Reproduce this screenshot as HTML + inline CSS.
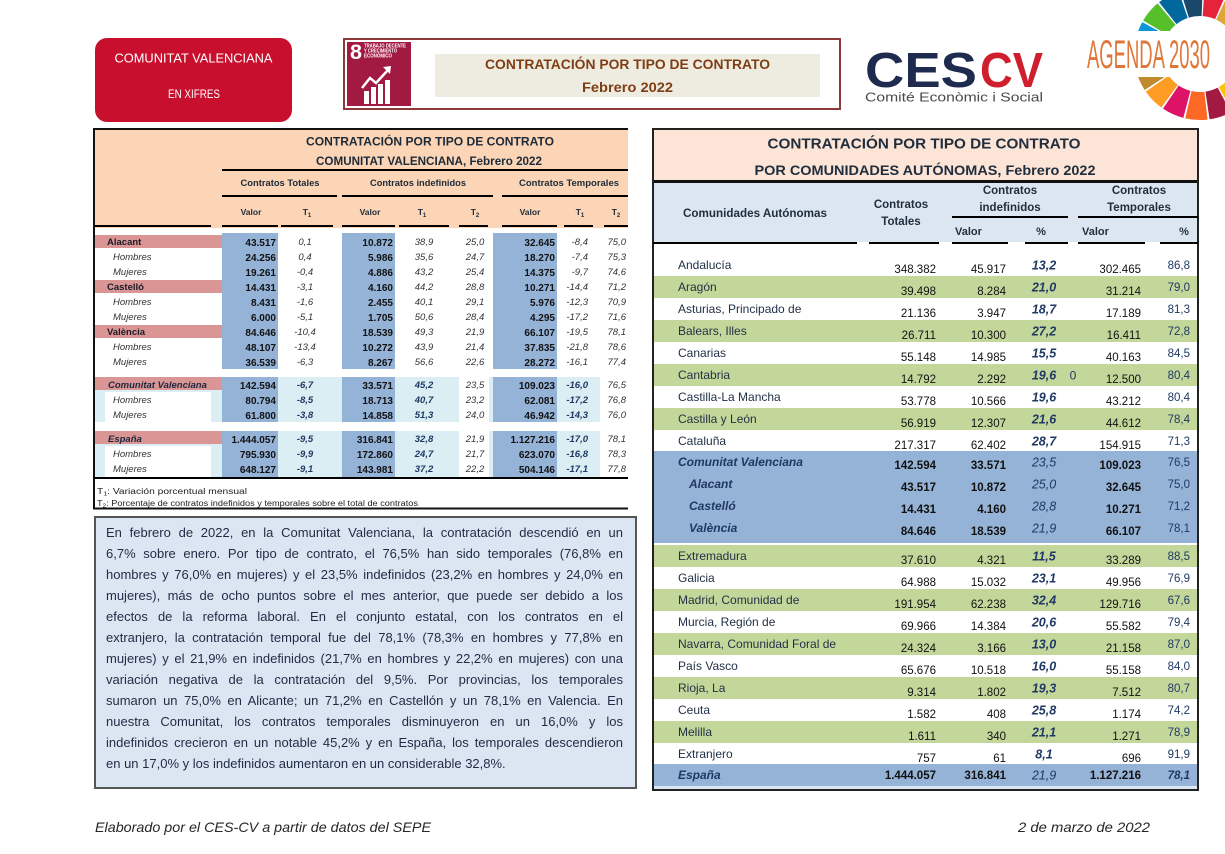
<!DOCTYPE html>
<html><head><meta charset="utf-8">
<style>
html,body{margin:0;padding:0;background:#fff}
body{width:1225px;height:854px;position:relative;overflow:hidden}
svg{position:absolute;left:0;top:0}
.p{position:absolute;left:106px;top:522px;width:517px;font:13px/21px "Liberation Sans",sans-serif;color:#1f2b45}
.p div{text-align:justify;text-align-last:justify;height:21px;overflow:visible}
.p div.l{text-align-last:left}
</style></head>
<body>
<svg width="1225" height="854" viewBox="0 0 1225 854" xmlns="http://www.w3.org/2000/svg" font-family="Liberation Sans, sans-serif">
<!-- red box -->
<rect x="95" y="38" width="197" height="84" rx="12" fill="#c8102e"/>
<text x="193.5" y="62.5" font-size="12.5" fill="#fff" text-anchor="middle" textLength="158" lengthAdjust="spacingAndGlyphs">COMUNITAT VALENCIANA</text>
<text x="194" y="98" font-size="11.5" fill="#fff" text-anchor="middle" textLength="52" lengthAdjust="spacingAndGlyphs">EN XIFRES</text>
<!-- brown box -->
<rect x="344" y="39" width="496" height="70" fill="#fff" stroke="#8e3a3a" stroke-width="2"/>
<rect x="347" y="42" width="64" height="64" fill="#a21942"/>
<text x="350" y="59" font-size="21" font-weight="bold" fill="#fff" textLength="12" lengthAdjust="spacingAndGlyphs">8</text>
<g fill="#fff" font-size="5" font-weight="bold">
<text x="364" y="47.5" textLength="42" lengthAdjust="spacingAndGlyphs">TRABAJO DECENTE</text>
<text x="364" y="52.5" textLength="33" lengthAdjust="spacingAndGlyphs">Y CRECIMIENTO</text>
<text x="364" y="57.5" textLength="28" lengthAdjust="spacingAndGlyphs">ECONÓMICO</text>
<rect x="364" y="91" width="5" height="13"/><rect x="371" y="87" width="5" height="17"/><rect x="378" y="84" width="5" height="20"/><rect x="385" y="80" width="5" height="24"/>
<polygon points="383,67 391,66 390,74"/>
</g>
<polyline points="362,88 370,78 376,83 388,70" stroke="#fff" stroke-width="2.5" fill="none"/>
<rect x="435" y="54" width="385" height="43" fill="#eeece1"/>
<text x="627.5" y="69" font-size="13.5" font-weight="bold" fill="#7f3d14" text-anchor="middle" textLength="285" lengthAdjust="spacingAndGlyphs">CONTRATACIÓN POR TIPO DE CONTRATO</text>
<text x="627.5" y="92" font-size="13.5" font-weight="bold" fill="#7f3d14" text-anchor="middle" textLength="91" lengthAdjust="spacingAndGlyphs">Febrero 2022</text>
<!-- CESCV -->
<text x="865" y="87" font-size="49" font-weight="bold" fill="#1e2b4e" textLength="112" lengthAdjust="spacingAndGlyphs">CES</text>
<text x="980" y="87" font-size="49" font-weight="bold" fill="#cf1f2e" textLength="63" lengthAdjust="spacingAndGlyphs">CV</text>
<text x="865" y="101.5" font-size="12.5" fill="#4a4a4a" textLength="178" lengthAdjust="spacingAndGlyphs">Comité Econòmic i Social</text>
<!-- SDG wheel -->
<g fill="none" stroke-width="28">
<circle cx="1200" cy="54" r="52" stroke="#E5243B" stroke-dasharray="17.7 400" transform="rotate(-86 1200 54)"/>
<circle cx="1200" cy="54" r="52" stroke="#DDA63A" stroke-dasharray="17.7 400" transform="rotate(-64.8 1200 54)"/>
<circle cx="1200" cy="54" r="52" stroke="#4C9F38" stroke-dasharray="17.7 400" transform="rotate(-43.6 1200 54)"/>
<circle cx="1200" cy="54" r="52" stroke="#C5192D" stroke-dasharray="17.7 400" transform="rotate(-22.5 1200 54)"/>
<circle cx="1200" cy="54" r="52" stroke="#FF3A21" stroke-dasharray="17.7 400" transform="rotate(-1.3 1200 54)"/>
<circle cx="1200" cy="54" r="52" stroke="#26BDE2" stroke-dasharray="17.7 400" transform="rotate(19.9 1200 54)"/>
<circle cx="1200" cy="54" r="52" stroke="#FCC30B" stroke-dasharray="17.7 400" transform="rotate(41 1200 54)"/>
<circle cx="1200" cy="54" r="52" stroke="#A21942" stroke-dasharray="17.7 400" transform="rotate(62.2 1200 54)"/>
<circle cx="1200" cy="54" r="52" stroke="#FD6925" stroke-dasharray="17.7 400" transform="rotate(83.4 1200 54)"/>
<circle cx="1200" cy="54" r="52" stroke="#DD1367" stroke-dasharray="17.7 400" transform="rotate(104.6 1200 54)"/>
<circle cx="1200" cy="54" r="52" stroke="#FD9D24" stroke-dasharray="17.7 400" transform="rotate(125.8 1200 54)"/>
<circle cx="1200" cy="54" r="52" stroke="#BF8B2E" stroke-dasharray="17.7 400" transform="rotate(147 1200 54)"/>
<circle cx="1200" cy="54" r="52" stroke="#3F7E44" stroke-dasharray="17.7 400" transform="rotate(168.2 1200 54)"/>
<circle cx="1200" cy="54" r="52" stroke="#0A97D9" stroke-dasharray="17.7 400" transform="rotate(189.4 1200 54)"/>
<circle cx="1200" cy="54" r="52" stroke="#56C02B" stroke-dasharray="17.7 400" transform="rotate(210.5 1200 54)"/>
<circle cx="1200" cy="54" r="52" stroke="#00689D" stroke-dasharray="17.7 400" transform="rotate(231.7 1200 54)"/>
<circle cx="1200" cy="54" r="52" stroke="#19486A" stroke-dasharray="17.7 400" transform="rotate(252.9 1200 54)"/>
</g>
<rect x="1083" y="31" width="142" height="46" fill="#fff"/>
<text x="1087" y="68" font-size="40" fill="#e0773a" textLength="123" lengthAdjust="spacingAndGlyphs">AGENDA 2030</text>

<!-- ============ LEFT TABLE ============ -->
<rect x="95" y="129" width="533" height="99" fill="#fbd5b5"/>
<path d="M628 129 H94 V508.5 H628" stroke="#111" stroke-width="2" fill="none"/>
<g fill="#000">
<rect x="222" y="169" width="406" height="2"/>
<rect x="222" y="195" width="115" height="2"/><rect x="342" y="195" width="151" height="2"/><rect x="502" y="195" width="126" height="2"/>
<rect x="94" y="225" width="117" height="2"/><rect x="222" y="225" width="56" height="2"/><rect x="281" y="225" width="52" height="2"/><rect x="342" y="225" width="53" height="2"/><rect x="399" y="225" width="50" height="2"/><rect x="459" y="225" width="29" height="2"/><rect x="502" y="225" width="55" height="2"/><rect x="564" y="225" width="29" height="2"/><rect x="604" y="225" width="24" height="2"/>
<rect x="94" y="477" width="534" height="2"/>
</g>
<g fill="#1d2a3a" font-weight="bold" text-anchor="middle">
<text x="430" y="145.5" font-size="11.8" textLength="248" lengthAdjust="spacingAndGlyphs">CONTRATACIÓN POR TIPO DE CONTRATO</text>
<text x="429" y="165" font-size="11.5" textLength="226" lengthAdjust="spacingAndGlyphs">COMUNITAT VALENCIANA, Febrero 2022</text>
<g font-size="9">
<text x="280" y="186" textLength="79" lengthAdjust="spacingAndGlyphs">Contratos Totales</text>
<text x="418" y="186" textLength="96" lengthAdjust="spacingAndGlyphs">Contratos indefinidos</text>
<text x="569" y="186" textLength="100" lengthAdjust="spacingAndGlyphs">Contratos Temporales</text>
</g>
<g font-size="8.5">
<text x="251" y="215">Valor</text>
<text x="307" y="215">T<tspan font-size="6" dy="2">1</tspan></text>
<text x="370" y="215">Valor</text>
<text x="422" y="215">T<tspan font-size="6" dy="2">1</tspan></text>
<text x="475" y="215">T<tspan font-size="6" dy="2">2</tspan></text>
<text x="530" y="215">Valor</text>
<text x="580" y="215">T<tspan font-size="6" dy="2">1</tspan></text>
<text x="616" y="215">T<tspan font-size="6" dy="2">2</tspan></text>
</g>
</g>
<!-- section backgrounds -->
<rect x="95" y="377" width="533" height="45" fill="#daeef3"/>
<rect x="95" y="431" width="533" height="46" fill="#daeef3"/>
<rect x="105" y="392" width="106" height="30" fill="#fff"/>
<rect x="105" y="446" width="106" height="31" fill="#fff"/>
<rect x="459" y="377" width="30" height="45" fill="#fff"/>
<rect x="459" y="431" width="30" height="46" fill="#fff"/>
<rect x="600" y="377" width="28" height="45" fill="#fff"/>
<rect x="600" y="431" width="28" height="46" fill="#fff"/>
<g fill="#95b3d7">
<rect x="222" y="233" width="56" height="136"/><rect x="342" y="233" width="53" height="136"/><rect x="493" y="233" width="64" height="136"/>
<rect x="222" y="377" width="56" height="45"/><rect x="342" y="377" width="53" height="45"/><rect x="493" y="377" width="64" height="45"/>
<rect x="222" y="431" width="56" height="46"/><rect x="342" y="431" width="53" height="46"/><rect x="493" y="431" width="64" height="46"/>
</g>
<g fill="#da9694">
<rect x="95" y="235" width="127" height="13"/><rect x="95" y="280" width="127" height="13"/><rect x="95" y="325" width="127" height="13"/>
<rect x="95" y="377" width="127" height="13"/><rect x="95" y="431" width="127" height="13"/>
</g>
<!-- labels -->
<g font-size="9.5" fill="#1a1a2a">
<g font-weight="bold"><text x="107" y="245">Alacant</text><text x="107" y="290">Castelló</text><text x="107" y="335">València</text></g>
<g font-weight="bold" font-style="italic" fill="#1c2640"><text x="108" y="388">Comunitat Valenciana</text><text x="108" y="442">España</text></g>
<g font-style="italic" fill="#333">
<text x="113" y="260">Hombres</text><text x="113" y="275">Mujeres</text>
<text x="113" y="305">Hombres</text><text x="113" y="320">Mujeres</text>
<text x="113" y="350">Hombres</text><text x="113" y="365">Mujeres</text>
<text x="113" y="403">Hombres</text><text x="113" y="418">Mujeres</text>
<text x="113" y="457">Hombres</text><text x="113" y="472">Mujeres</text>
</g>
</g>
<!-- valor cols -->
<g font-size="10" font-weight="bold" fill="#111" text-anchor="end">
<text x="276" y="246">43.517</text><text x="276" y="261">24.256</text><text x="276" y="276">19.261</text><text x="276" y="291">14.431</text><text x="276" y="306">8.431</text><text x="276" y="321">6.000</text><text x="276" y="336">84.646</text><text x="276" y="351">48.107</text><text x="276" y="366">36.539</text>
<text x="276" y="389">142.594</text><text x="276" y="404">80.794</text><text x="276" y="419">61.800</text>
<text x="276" y="443">1.444.057</text><text x="276" y="458">795.930</text><text x="276" y="473">648.127</text>
<text x="393" y="246">10.872</text><text x="393" y="261">5.986</text><text x="393" y="276">4.886</text><text x="393" y="291">4.160</text><text x="393" y="306">2.455</text><text x="393" y="321">1.705</text><text x="393" y="336">18.539</text><text x="393" y="351">10.272</text><text x="393" y="366">8.267</text>
<text x="393" y="389">33.571</text><text x="393" y="404">18.713</text><text x="393" y="419">14.858</text>
<text x="393" y="443">316.841</text><text x="393" y="458">172.860</text><text x="393" y="473">143.981</text>
<text x="555" y="246">32.645</text><text x="555" y="261">18.270</text><text x="555" y="276">14.375</text><text x="555" y="291">10.271</text><text x="555" y="306">5.976</text><text x="555" y="321">4.295</text><text x="555" y="336">66.107</text><text x="555" y="351">37.835</text><text x="555" y="366">28.272</text>
<text x="555" y="389">109.023</text><text x="555" y="404">62.081</text><text x="555" y="419">46.942</text>
<text x="555" y="443">1.127.216</text><text x="555" y="458">623.070</text><text x="555" y="473">504.146</text>
</g>
<!-- T cols -->
<g font-size="9.5" font-style="italic" fill="#333">
<g text-anchor="middle">
<text x="305" y="245">0,1</text><text x="305" y="260">0,4</text><text x="305" y="275">-0,4</text><text x="305" y="290">-3,1</text><text x="305" y="305">-1,6</text><text x="305" y="320">-5,1</text><text x="305" y="335">-10,4</text><text x="305" y="350">-13,4</text><text x="305" y="365">-6,3</text>
<text x="424" y="245">38,9</text><text x="424" y="260">35,6</text><text x="424" y="275">43,2</text><text x="424" y="290">44,2</text><text x="424" y="305">40,1</text><text x="424" y="320">50,6</text><text x="424" y="335">49,3</text><text x="424" y="350">43,9</text><text x="424" y="365">56,6</text>
<text x="475" y="245">25,0</text><text x="475" y="260">24,7</text><text x="475" y="275">25,4</text><text x="475" y="290">28,8</text><text x="475" y="305">29,1</text><text x="475" y="320">28,4</text><text x="475" y="335">21,9</text><text x="475" y="350">21,4</text><text x="475" y="365">22,6</text>
<text x="475" y="388">23,5</text><text x="475" y="403">23,2</text><text x="475" y="418">24,0</text>
<text x="475" y="442">21,9</text><text x="475" y="457">21,7</text><text x="475" y="472">22,2</text>
</g>
<g text-anchor="end">
<text x="588" y="245">-8,4</text><text x="588" y="260">-7,4</text><text x="588" y="275">-9,7</text><text x="588" y="290">-14,4</text><text x="588" y="305">-12,3</text><text x="588" y="320">-17,2</text><text x="588" y="335">-19,5</text><text x="588" y="350">-21,8</text><text x="588" y="365">-16,1</text>
<text x="626" y="245">75,0</text><text x="626" y="260">75,3</text><text x="626" y="275">74,6</text><text x="626" y="290">71,2</text><text x="626" y="305">70,9</text><text x="626" y="320">71,6</text><text x="626" y="335">78,1</text><text x="626" y="350">78,6</text><text x="626" y="365">77,4</text>
<text x="626" y="388">76,5</text><text x="626" y="403">76,8</text><text x="626" y="418">76,0</text>
<text x="626" y="442">78,1</text><text x="626" y="457">78,3</text><text x="626" y="472">77,8</text>
</g>
</g>
<g font-size="9.5" font-style="italic" font-weight="bold" fill="#1f3864">
<g text-anchor="middle">
<text x="305" y="388">-6,7</text><text x="305" y="403">-8,5</text><text x="305" y="418">-3,8</text>
<text x="305" y="442">-9,5</text><text x="305" y="457">-9,9</text><text x="305" y="472">-9,1</text>
<text x="424" y="388">45,2</text><text x="424" y="403">40,7</text><text x="424" y="418">51,3</text>
<text x="424" y="442">32,8</text><text x="424" y="457">24,7</text><text x="424" y="472">37,2</text>
</g>
<g text-anchor="end">
<text x="588" y="388">-16,0</text><text x="588" y="403">-17,2</text><text x="588" y="418">-14,3</text>
<text x="588" y="442">-17,0</text><text x="588" y="457">-16,8</text><text x="588" y="472">-17,1</text>
</g>
</g>
<g font-size="8" fill="#222">
<text x="97" y="494" textLength="150" lengthAdjust="spacingAndGlyphs">T<tspan font-size="5.5" dy="1.5">1</tspan><tspan dy="-1.5">: Variación porcentual mensual</tspan></text>
<text x="97" y="506" textLength="321" lengthAdjust="spacingAndGlyphs">T<tspan font-size="5.5" dy="1.5">2</tspan><tspan dy="-1.5">: Porcentaje de contratos indefinidos y temporales sobre el total de contratos</tspan></text>
</g>

<!-- text box -->
<rect x="95" y="517" width="541" height="271" fill="#dce6f2" stroke="#555" stroke-width="2"/>

<!-- ============ RIGHT TABLE ============ -->
<rect x="653" y="129" width="545" height="661" fill="#fff" stroke="#222" stroke-width="2"/>
<rect x="654" y="130" width="543" height="50" fill="#fce4d6"/>
<rect x="654" y="180" width="543" height="3" fill="#111"/>
<rect x="654" y="183" width="543" height="59" fill="#dce6f1"/>
<g fill="#000">
<rect x="653" y="242" width="204" height="2"/><rect x="869" y="242" width="70" height="2"/><rect x="952" y="242" width="56" height="2"/><rect x="1025" y="242" width="43" height="2"/><rect x="1078" y="242" width="67" height="2"/><rect x="1160" y="242" width="38" height="2"/>
<rect x="952" y="216" width="116" height="2"/><rect x="1078" y="216" width="120" height="2"/>
</g>
<g fill="#1f2d3d" font-weight="bold">
<text x="924" y="148.5" font-size="15" text-anchor="middle" textLength="313" lengthAdjust="spacingAndGlyphs">CONTRATACIÓN POR TIPO DE CONTRATO</text>
<text x="925" y="175" font-size="14" text-anchor="middle" textLength="341" lengthAdjust="spacingAndGlyphs">POR COMUNIDADES AUTÓNOMAS, Febrero 2022</text>
<g font-size="11.5">
<text x="683" y="217" textLength="144" lengthAdjust="spacingAndGlyphs">Comunidades Autónomas</text>
<text x="901" y="208" text-anchor="middle">Contratos</text><text x="901" y="225" text-anchor="middle">Totales</text>
<text x="1010" y="194" text-anchor="middle">Contratos</text><text x="1010" y="211" text-anchor="middle">indefinidos</text>
<text x="1139" y="194" text-anchor="middle">Contratos</text><text x="1139" y="211" text-anchor="middle">Temporales</text>
</g>
<g font-size="11">
<text x="955" y="235">Valor</text><text x="1041" y="235" text-anchor="middle">%</text>
<text x="1082" y="235">Valor</text><text x="1184" y="235" text-anchor="middle">%</text>
</g>
</g>
<!-- row backgrounds -->
<g fill="#c4d79b">
<rect x="654" y="276" width="543" height="22"/><rect x="654" y="320" width="543" height="22"/><rect x="654" y="364" width="543" height="22"/><rect x="654" y="408" width="543" height="22"/>
<rect x="654" y="545" width="543" height="22"/><rect x="654" y="589" width="543" height="22"/><rect x="654" y="633" width="543" height="22"/><rect x="654" y="677" width="543" height="22"/><rect x="654" y="721" width="543" height="22"/>
</g>
<rect x="654" y="451" width="543" height="92" fill="#95b3d7"/>
<rect x="654" y="764" width="543" height="22" fill="#95b3d7"/>
<rect x="654" y="786" width="543" height="3" fill="#dce6f1"/>
<!-- labels -->
<g font-size="12" fill="#1f2f45">
<text x="678" y="269">Andalucía</text><text x="678" y="291">Aragón</text><text x="678" y="313">Asturias, Principado de</text><text x="678" y="335">Balears, Illes</text><text x="678" y="357">Canarias</text><text x="678" y="379">Cantabria</text><text x="678" y="401">Castilla-La Mancha</text><text x="678" y="423">Castilla y León</text><text x="678" y="445">Cataluña</text>
<text x="678" y="560">Extremadura</text><text x="678" y="582">Galicia</text><text x="678" y="604">Madrid, Comunidad de</text><text x="678" y="626">Murcia, Región de</text><text x="678" y="648">Navarra, Comunidad Foral de</text><text x="678" y="670">País Vasco</text><text x="678" y="692">Rioja, La</text><text x="678" y="714">Ceuta</text><text x="678" y="736">Melilla</text><text x="678" y="758">Extranjero</text>
</g>
<g font-size="12" fill="#1f3864" font-weight="bold" font-style="italic">
<text x="678" y="466">Comunitat Valenciana</text><text x="689" y="488">Alacant</text><text x="689" y="510">Castelló</text><text x="689" y="532">València</text>
<text x="678" y="779">España</text>
</g>
<!-- numbers regular -->
<g font-size="11.5" fill="#111" text-anchor="end">
<text x="936" y="273">348.382</text><text x="1006" y="273">45.917</text><text x="1141" y="273">302.465</text>
<text x="936" y="295">39.498</text><text x="1006" y="295">8.284</text><text x="1141" y="295">31.214</text>
<text x="936" y="317">21.136</text><text x="1006" y="317">3.947</text><text x="1141" y="317">17.189</text>
<text x="936" y="339">26.711</text><text x="1006" y="339">10.300</text><text x="1141" y="339">16.411</text>
<text x="936" y="361">55.148</text><text x="1006" y="361">14.985</text><text x="1141" y="361">40.163</text>
<text x="936" y="383">14.792</text><text x="1006" y="383">2.292</text><text x="1141" y="383">12.500</text>
<text x="936" y="405">53.778</text><text x="1006" y="405">10.566</text><text x="1141" y="405">43.212</text>
<text x="936" y="427">56.919</text><text x="1006" y="427">12.307</text><text x="1141" y="427">44.612</text>
<text x="936" y="449">217.317</text><text x="1006" y="449">62.402</text><text x="1141" y="449">154.915</text>
<text x="936" y="564">37.610</text><text x="1006" y="564">4.321</text><text x="1141" y="564">33.289</text>
<text x="936" y="586">64.988</text><text x="1006" y="586">15.032</text><text x="1141" y="586">49.956</text>
<text x="936" y="608">191.954</text><text x="1006" y="608">62.238</text><text x="1141" y="608">129.716</text>
<text x="936" y="630">69.966</text><text x="1006" y="630">14.384</text><text x="1141" y="630">55.582</text>
<text x="936" y="652">24.324</text><text x="1006" y="652">3.166</text><text x="1141" y="652">21.158</text>
<text x="936" y="674">65.676</text><text x="1006" y="674">10.518</text><text x="1141" y="674">55.158</text>
<text x="936" y="696">9.314</text><text x="1006" y="696">1.802</text><text x="1141" y="696">7.512</text>
<text x="936" y="718">1.582</text><text x="1006" y="718">408</text><text x="1141" y="718">1.174</text>
<text x="936" y="740">1.611</text><text x="1006" y="740">340</text><text x="1141" y="740">1.271</text>
<text x="936" y="762">757</text><text x="1006" y="762">61</text><text x="1141" y="762">696</text>
</g>
<g font-size="11.5" fill="#111" text-anchor="end" font-weight="bold">
<text x="936" y="469">142.594</text><text x="1006" y="469">33.571</text><text x="1141" y="469">109.023</text>
<text x="936" y="491">43.517</text><text x="1006" y="491">10.872</text><text x="1141" y="491">32.645</text>
<text x="936" y="513">14.431</text><text x="1006" y="513">4.160</text><text x="1141" y="513">10.271</text>
<text x="936" y="535">84.646</text><text x="1006" y="535">18.539</text><text x="1141" y="535">66.107</text>
<text x="936" y="779">1.444.057</text><text x="1006" y="779">316.841</text><text x="1141" y="779">1.127.216</text>
</g>
<!-- pct indef -->
<g font-size="12.5" fill="#1f3864" font-weight="bold" font-style="italic" text-anchor="middle">
<text x="1044" y="269.5">13,2</text><text x="1044" y="291.5">21,0</text><text x="1044" y="313.5">18,7</text><text x="1044" y="335.5">27,2</text><text x="1044" y="357.5">15,5</text><text x="1044" y="379.5">19,6</text><text x="1044" y="401.5">19,6</text><text x="1044" y="423.5">21,6</text><text x="1044" y="445.5">28,7</text>
<text x="1044" y="560.5">11,5</text><text x="1044" y="582.5">23,1</text><text x="1044" y="604.5">32,4</text><text x="1044" y="626.5">20,6</text><text x="1044" y="648.5">13,0</text><text x="1044" y="670.5">16,0</text><text x="1044" y="692.5">19,3</text><text x="1044" y="714.5">25,8</text><text x="1044" y="736.5">21,1</text><text x="1044" y="758.5">8,1</text>
</g>
<g font-size="12.5" fill="#1f3864" font-style="italic" text-anchor="middle">
<text x="1044" y="466.5">23,5</text><text x="1044" y="488.5">25,0</text><text x="1044" y="510.5">28,8</text><text x="1044" y="532.5">21,9</text>
<text x="1044" y="779.5">21,9</text>
</g>
<text x="1073" y="379.5" font-size="12" fill="#1f3864" text-anchor="middle">0</text>
<!-- last col -->
<g font-size="11.5" fill="#1f3864" text-anchor="end">
<text x="1190" y="269">86,8</text><text x="1190" y="291">79,0</text><text x="1190" y="313">81,3</text><text x="1190" y="335">72,8</text><text x="1190" y="357">84,5</text><text x="1190" y="379">80,4</text><text x="1190" y="401">80,4</text><text x="1190" y="423">78,4</text><text x="1190" y="445">71,3</text>
<text x="1190" y="466">76,5</text><text x="1190" y="488">75,0</text><text x="1190" y="510">71,2</text><text x="1190" y="532">78,1</text>
<text x="1190" y="560">88,5</text><text x="1190" y="582">76,9</text><text x="1190" y="604">67,6</text><text x="1190" y="626">79,4</text><text x="1190" y="648">87,0</text><text x="1190" y="670">84,0</text><text x="1190" y="692">80,7</text><text x="1190" y="714">74,2</text><text x="1190" y="736">78,9</text><text x="1190" y="758">91,9</text>
<text x="1190" y="779" font-weight="bold" font-style="italic">78,1</text>
</g>

<!-- footer -->
<text x="95" y="832" font-size="14" font-style="italic" fill="#262626" textLength="336" lengthAdjust="spacingAndGlyphs">Elaborado por el CES-CV a partir de datos del SEPE</text>
<text x="1150" y="832" font-size="14" font-style="italic" fill="#262626" text-anchor="end" textLength="132" lengthAdjust="spacingAndGlyphs">2 de marzo de 2022</text>
</svg>

<div class="p">
<div>En febrero de 2022, en la Comunitat Valenciana, la contratación descendió en un</div>
<div>6,7% sobre enero. Por tipo de contrato, el 76,5% han sido temporales (76,8% en</div>
<div>hombres y 76,0% en mujeres) y el 23,5% indefinidos (23,2% en hombres y 24,0% en</div>
<div>mujeres), más de ocho puntos sobre el mes anterior, que puede ser debido a los</div>
<div>efectos de la reforma laboral. En el conjunto estatal, con los contratos en el</div>
<div>extranjero, la contratación temporal fue del 78,1% (78,3% en hombres y 77,8% en</div>
<div>mujeres) y el 21,9% en indefinidos (21,7% en hombres y 22,2% en mujeres) con una</div>
<div>variación negativa de la contratación del 9,5%. Por provincias, los temporales</div>
<div>sumaron un 75,0% en Alicante; un 71,2% en Castellón y un 78,1% en Valencia. En</div>
<div>nuestra Comunitat, los contratos temporales disminuyeron en un 16,0% y los</div>
<div>indefinidos crecieron en un notable 45,2% y en España, los temporales descendieron</div>
<div class="l">en un 17,0% y los indefinidos aumentaron en un considerable 32,8%.</div>
</div>
</body></html>
